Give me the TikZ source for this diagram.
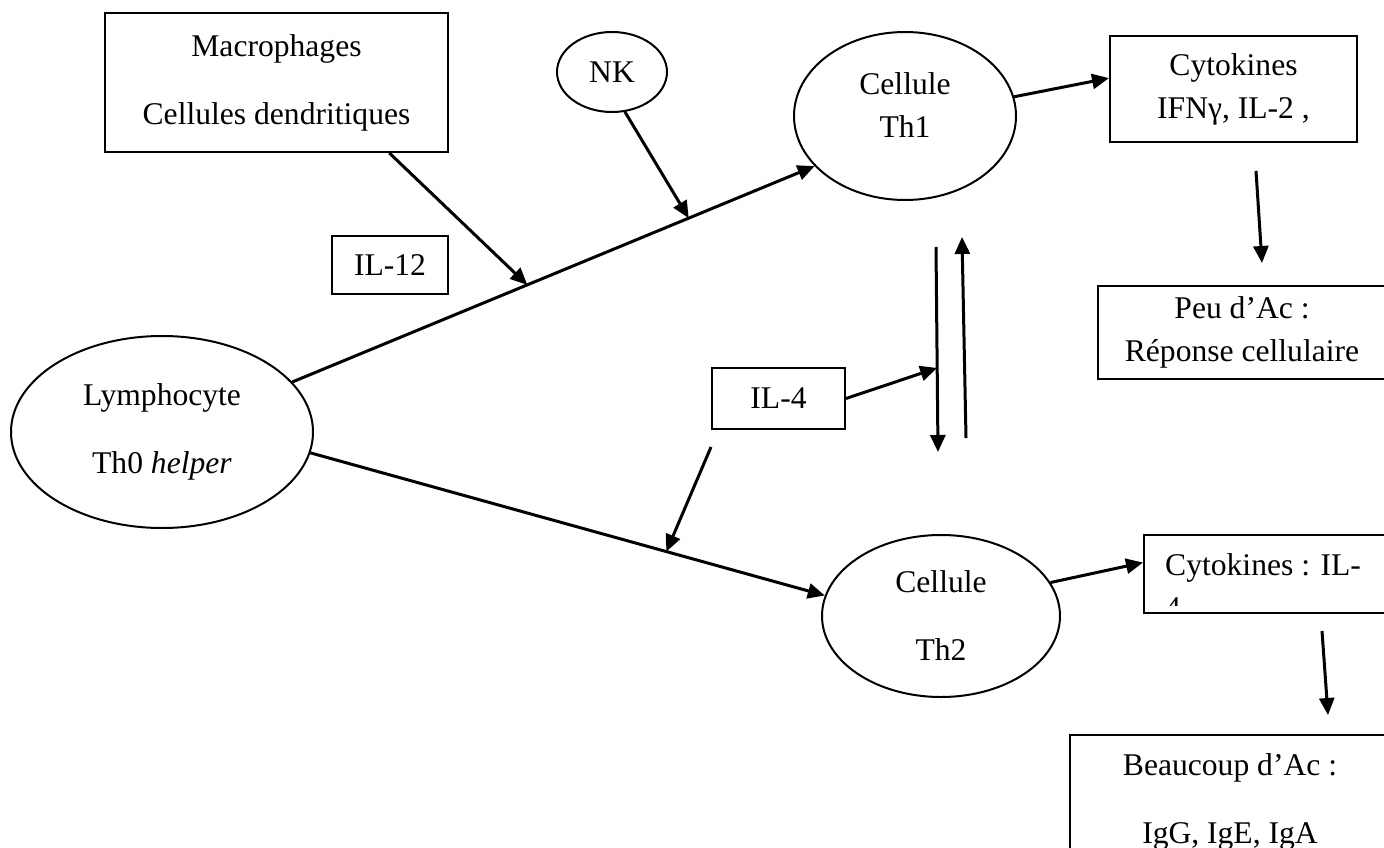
\documentclass[tikz,border=0pt]{standalone}
\usepackage{fontspec}
\setmainfont{Liberation Serif}
\usetikzlibrary{shapes.geometric,arrows.meta}

\tikzset{
  box/.style={draw, line width=2pt, rectangle, inner sep=0pt, align=center},
  cell/.style={draw, line width=2pt, ellipse, inner sep=0pt, align=center},
  link/.style={line width=3pt, -{Triangle[length=17pt,width=15pt]}},
  tight/.style={font=\fontsize{31.6}{43}\selectfont},
  loose/.style={font=\fontsize{31.6}{68}\selectfont}
}

\begin{document}
\begin{tikzpicture}[x=1pt, y=-1pt, tight]
   \useasboundingbox (0,0) rectangle (1384,848);
   \clip (0,0) rectangle (1384,848);

   \node[box, loose, minimum width=343pt, minimum height=139pt] (mac) at (276.5,82.5) {Macrophages\\Cellules dendritiques};
   \node[box, minimum width=116pt, minimum height=58pt] (il12) at (390,265) {IL-12};
   \node[cell, minimum width=110pt, minimum height=80pt] (nk) at (612,72) {NK};
   \node[cell, minimum width=222pt, minimum height=168pt, text depth=22pt] (th1) at (905,116) {Cellule\\Th1};
   \node[box, minimum width=247pt, minimum height=106pt] (cyt1) at (1233.5,89) {Cytokines\\IFNγ, IL-2 ,};
   \node[box, minimum width=288pt, minimum height=93pt] (peu) at (1242,332.5) {Peu d’Ac :\\Réponse cellulaire};
   \node[cell, loose, minimum width=302pt, minimum height=192pt] (lym) at (162,432) {Lymphocyte\\Th0 \textit{helper}};
   \node[box, minimum width=133pt, minimum height=61pt] (il4) at (778.5,398.5) {IL-4};
   \node[cell, loose, minimum width=238pt, minimum height=162pt] (th2) at (941,616) {Cellule\\Th2};
   \node[box, minimum width=260pt, minimum height=78pt] (cyt2) at (1274,574) {};
   \begin{scope}
      \clip (1144,535) rectangle (1404,605);
      \node[anchor=north west, inner sep=0pt, align=left] (cyt2txt) at (1165,553) {Cytokines : IL-\\4};
   \end{scope}
   \node[box, loose, minimum width=320pt, minimum height=133pt] (beau) at (1230,801.6) {Beaucoup d’Ac :\\IgG, IgE, IgA};

   \coordinate (dnA) at (936,247);
   \coordinate (dnB) at (938,452);
   \coordinate (upA) at (966,438);
   \coordinate (upB) at (962,237);
   \coordinate (c1a) at (1256,171);
   \coordinate (c1b) at (1262,263);
   \coordinate (c2a) at (1322,631);
   \coordinate (c2b) at (1328,715);

   \draw[link] (lym.21) -- coordinate[pos=0.45] (il12tip) coordinate[pos=0.759] (nktip) (th1.209);
   \draw[link] (lym.352) -- coordinate[pos=0.692] (il4tip) (th2.170);
   \draw[link] (dnA) -- coordinate[pos=0.59] (dntip) (dnB);
   \draw[link] (upA) -- (upB);
   \path[link]
    (mac.-32) edge (il12tip)
    (nk.-72) edge (nktip)
    (il4.east) edge (dntip)
    ([yshift=-17pt]il4.south west) edge (il4tip)
    (th1.10) edge (cyt1.175)
    (th2.17) edge (cyt2.175)
    (c1a) edge (c1b)
    (c2a) edge (c2b);
\end{tikzpicture}
\end{document}
